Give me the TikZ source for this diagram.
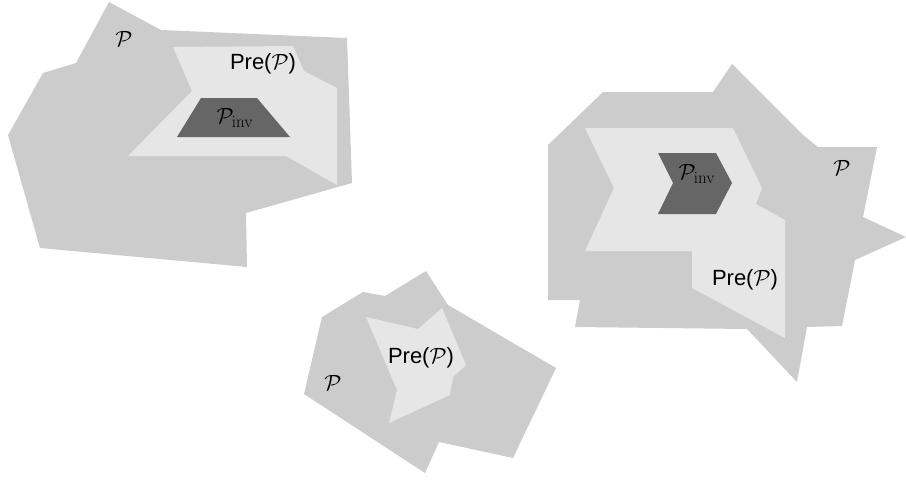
\RequirePackage{fix-cm}
\documentclass[tikz,border=0pt]{standalone}
\usepackage{amsmath,amssymb}
\usepackage[no-math]{fontspec}
\setmainfont{Liberation Sans}
\usepackage{tikz}
\usepackage{xcolor}
\DeclareMathSizes{22}{22}{17}{13}

\definecolor{setP}{HTML}{CCCCCC}
\definecolor{setPre}{HTML}{E6E6E6}
\definecolor{setInv}{HTML}{666666}

\begin{document}
\begin{tikzpicture}[x=1pt,y=-1pt,font=\fontsize{22}{26}\selectfont,
  Pset/.style={fill=setP},preset/.style={fill=setPre},invset/.style={fill=setInv}]
\useasboundingbox (0,0) rectangle (906,480);
% left set: P, Pre(P), P_inv
\fill[Pset] (109,2) -- (161,30) -- (347,38) -- (352,183) -- (246,213) -- (247,267)
  -- (40,248) -- (8,135) -- (43,73) -- (76,63) -- cycle;
\fill[preset] (173,47) -- (293,46) -- (304,71) -- (337,88) -- (337,185) -- (286,156)
  -- (128,156) -- (192,91) -- cycle;
\fill[invset] (201,98) -- (257,98) -- (290,137) -- (177,137) -- cycle;
\node (pL) at (124,39) {$\mathcal{P}$};
\node (preL) at (263,64) {Pre($\mathcal{P}$)};
\node (invL) at (235,118) {$\mathcal{P}_{\mathrm{inv}}$};
% right set
\fill[Pset] (603,92) -- (713,92) -- (732,64) -- (803,135) -- (818,147) -- (877,147)
  -- (863,217) -- (906,237) -- (855,260) -- (842,326) -- (807,327) -- (797,382)
  -- (747,329) -- (575,327) -- (580,300) -- (548,300) -- (548,145) -- cycle;
\fill[preset] (585,128) -- (733,128) -- (762,188) -- (756,204) -- (785,220) -- (785,338)
  -- (692,288) -- (692,251) -- (585,251) -- (614,188) -- cycle;
\fill[invset] (658,153) -- (716,153) -- (732,183) -- (716,214) -- (658,214) -- (673,183) -- cycle;
\node (pR) at (842,168) {$\mathcal{P}$};
\node (preR) at (745,280) {Pre($\mathcal{P}$)};
\node (invR) at (697,174) {$\mathcal{P}_{\mathrm{inv}}$};
% middle set, no invariant part
\fill[Pset] (426,271) -- (448,305) -- (556,368) -- (513,458) -- (439,442) -- (425,473)
  -- (304,394) -- (322,317) -- (363,292) -- (385,296) -- cycle;
\fill[preset] (366,317) -- (418,329) -- (442,308) -- (466,365) -- (453,377) -- (450,395)
  -- (389,423) -- (397,390) -- cycle;
\node (pM) at (333,383) {$\mathcal{P}$};
\node (preM) at (421,358) {Pre($\mathcal{P}$)};
\end{tikzpicture}
\end{document}
